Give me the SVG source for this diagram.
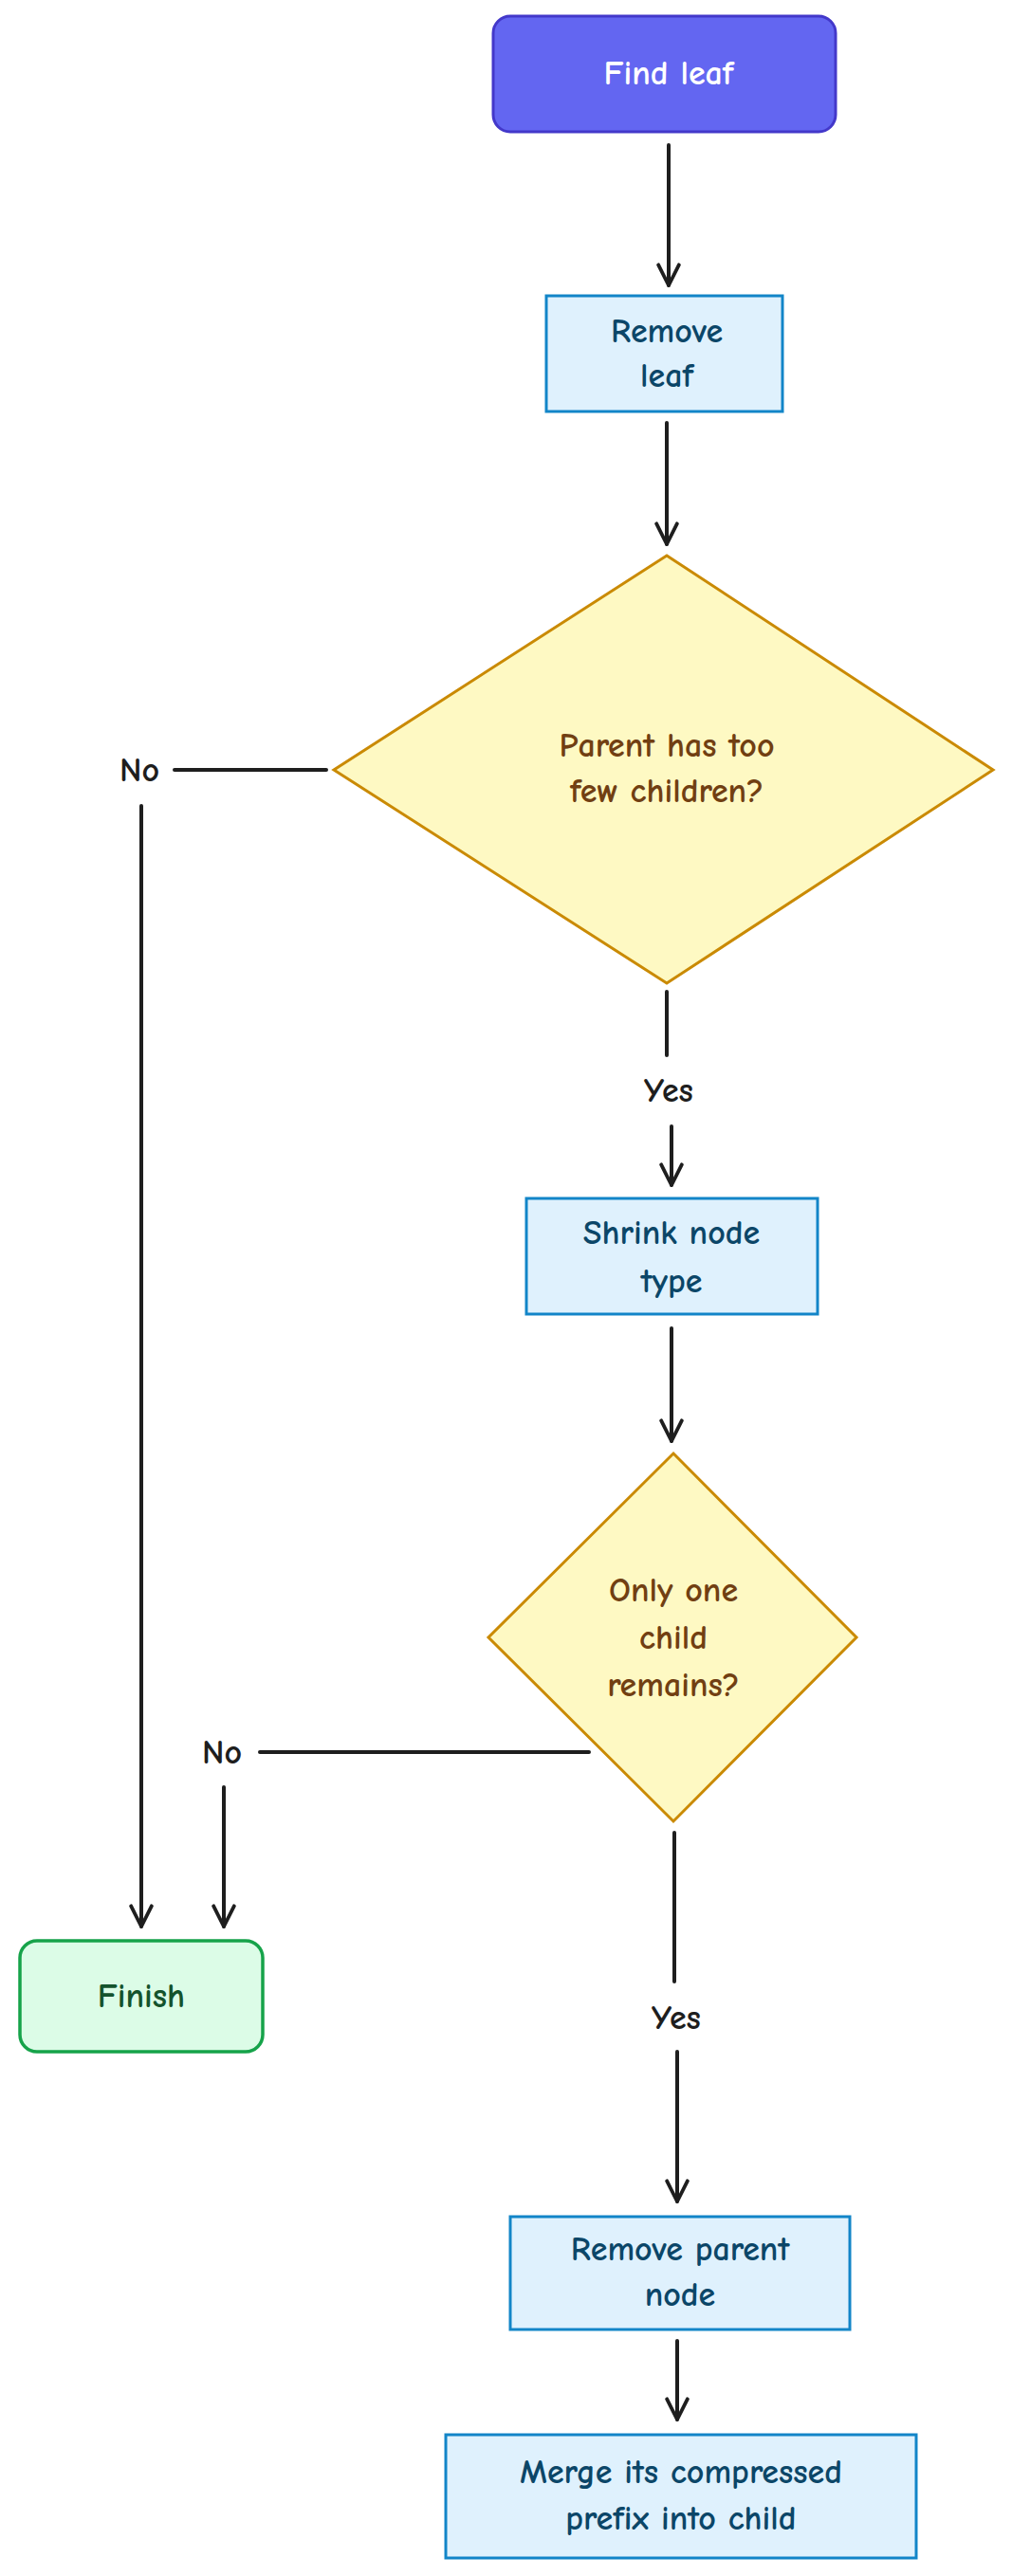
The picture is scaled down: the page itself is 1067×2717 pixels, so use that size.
<svg xmlns="http://www.w3.org/2000/svg" width="1067" height="2717" viewBox="0 0 1067 2717">
<defs>
<style>
text{font-family:"Comic Neue","Liberation Sans",sans-serif;font-size:36px;font-weight:bold;text-anchor:middle;dominant-baseline:central}
.proc rect{fill:#dff1fd;stroke:#1285c8;stroke-width:3}
.proc text{fill:#0b4668}
.dec polygon{fill:#fef9c3;stroke:#ca8a04;stroke-width:3}
.dec text{fill:#713f12}
.conn path{fill:none;stroke:#1e1e1e;stroke-width:4;stroke-linecap:round}
.lbl{fill:#1e1e1e}
</style>
<marker id="ah" viewBox="0 0 24 24" refX="22" refY="12" markerWidth="26" markerHeight="26" markerUnits="userSpaceOnUse" orient="auto">
<path d="M2 2 L22 12 L2 22" fill="none" stroke="#1e1e1e" stroke-width="3.5" stroke-linecap="round" stroke-linejoin="round"/>
</marker>
</defs>
<rect width="1067" height="2717" fill="#fff"/>
<g class="conn">
<path d="M705 153 V301" marker-end="url(#ah)"/>
<path d="M703 446 V574" marker-end="url(#ah)"/>
<path d="M703 1046 V1113"/>
<path d="M708 1188 V1250" marker-end="url(#ah)"/>
<path d="M708 1401 V1520" marker-end="url(#ah)"/>
<path d="M344 812 H184"/>
<path d="M149 850 V2032" marker-end="url(#ah)"/>
<path d="M621 1848 H274"/>
<path d="M236 1885 V2032" marker-end="url(#ah)"/>
<path d="M711 1933 V2090"/>
<path d="M714 2164 V2322" marker-end="url(#ah)"/>
<path d="M714 2469 V2552" marker-end="url(#ah)"/>
</g>
<g id="labels">
<text class="lbl" x="147" y="812">No</text>
<text class="lbl" x="705" y="1150">Yes</text>
<text class="lbl" x="234" y="1848">No</text>
<text class="lbl" x="713" y="2128">Yes</text>
</g>
<g id="find-leaf">
<rect x="520" y="17" width="361" height="122" rx="18" fill="#6366f1" stroke="#4338ca" stroke-width="3"/>
<text x="705" y="77" fill="#ffffff">Find leaf</text>
</g>
<g id="remove-leaf" class="proc">
<rect x="576" y="312" width="249" height="122"/>
<text x="703" y="349">Remove</text><text x="703" y="396">leaf</text>
</g>
<g id="parent-few" class="dec">
<polygon points="703,586 1047,812 703,1037 352,812"/>
<text x="703" y="786">Parent has too</text><text x="703" y="834">few children?</text>
</g>
<g id="shrink" class="proc">
<rect x="555" y="1264" width="307" height="122"/>
<text x="708" y="1300">Shrink node</text><text x="708" y="1351">type</text>
</g>
<g id="only-one" class="dec">
<polygon points="710,1533 903,1727 710,1921 515,1727"/>
<text x="710" y="1677">Only one</text><text x="710" y="1727">child</text><text x="710" y="1777">remains?</text>
</g>
<g id="finish">
<rect x="21" y="2047" width="256" height="117" rx="18" fill="#dcfce7" stroke="#16a34a" stroke-width="3.5"/>
<text x="149" y="2105" fill="#14532d">Finish</text>
</g>
<g id="remove-parent" class="proc">
<rect x="538" y="2338" width="358" height="119"/>
<text x="717" y="2372">Remove parent</text><text x="717" y="2420">node</text>
</g>
<g id="merge" class="proc">
<rect x="470" y="2568" width="496" height="130"/>
<text x="718" y="2607">Merge its compressed</text><text x="718" y="2656">prefix into child</text>
</g>
</svg>
